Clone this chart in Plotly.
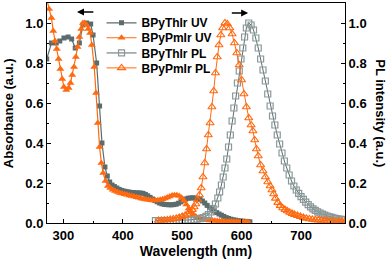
import plotly.graph_objects as go

# ---- data ----
uv_thir_wl = [272, 280, 288, 294, 301, 308, 314, 320, 327, 333, 339, 346, 350, 356, 361, 365, 370, 374, 378, 382,
              386, 390, 394, 398, 402, 406, 410, 414, 418, 422, 426, 430, 434, 438, 442, 446, 450, 454, 458, 462,
              466, 470, 474, 478, 482, 486, 490, 494, 498, 502, 506, 510, 514, 518, 522, 526, 530, 534, 538, 542,
              546, 550, 554, 558, 562, 566, 570, 574, 578, 582, 586, 590, 594, 598, 602, 606, 610, 614]
uv_thir = [0.82, 0.90, 0.90, 0.91, 0.925, 0.93, 0.92, 0.875, 0.90, 0.99, 1.0, 0.995, 0.94, 0.80, 0.585, 0.40, 0.28,
           0.235, 0.205, 0.19, 0.182, 0.175, 0.168, 0.163, 0.16, 0.157, 0.155, 0.153, 0.152, 0.151, 0.15, 0.15,
           0.148, 0.143, 0.136, 0.128, 0.12, 0.112, 0.106, 0.100, 0.096, 0.093, 0.092, 0.091, 0.091, 0.092, 0.094,
           0.099, 0.106, 0.114, 0.12, 0.124, 0.125, 0.126, 0.125, 0.123, 0.118, 0.11, 0.1, 0.088, 0.078, 0.068,
           0.06, 0.052, 0.045, 0.039, 0.033, 0.027, 0.023, 0.019, 0.016, 0.014, 0.012, 0.01, 0.009, 0.008, 0.007, 0.006]

uv_pmir_wl = [272, 276, 280, 283, 286, 289, 292, 295, 298, 301, 305, 309, 312, 315, 318, 321, 324, 327, 330, 333,
              336, 339, 342, 345, 348, 352, 355, 358, 361, 364, 367, 371, 375, 379, 383, 387, 391, 395, 399, 403,
              407, 411, 415, 419, 423, 427, 431, 435, 439, 443, 447, 451, 455, 459, 463, 467, 471, 475, 479, 483,
              487, 491, 495, 499, 503, 507, 511, 515, 519, 523, 527, 531, 535, 539, 543, 547, 551, 555, 559, 563,
              567, 571, 575, 579, 583, 587, 591, 595, 599, 603, 607, 611]
uv_pmir = [1.12, 1.07, 1.025, 0.96, 0.91, 0.87, 0.82, 0.77, 0.72, 0.68, 0.665, 0.675, 0.70, 0.74, 0.78, 0.83, 0.88,
           0.93, 0.97, 1.0, 1.0, 0.99, 0.97, 0.95, 0.89, 0.78, 0.65, 0.5, 0.38, 0.3, 0.25, 0.21, 0.185, 0.175,
           0.166, 0.16, 0.155, 0.15, 0.147, 0.144, 0.141, 0.138, 0.135, 0.132, 0.129, 0.126, 0.123, 0.12, 0.118,
           0.116, 0.114, 0.113, 0.113, 0.114, 0.116, 0.119, 0.123, 0.128, 0.133, 0.137, 0.139, 0.139, 0.135, 0.126,
           0.112, 0.092, 0.072, 0.055, 0.042, 0.033, 0.026, 0.021, 0.018, 0.016, 0.014, 0.013, 0.012, 0.011, 0.01,
           0.009, 0.009, 0.008, 0.008, 0.007, 0.007, 0.006, 0.006, 0.006, 0.005, 0.005, 0.005, 0.005]

pl_thir_wl = [455, 460, 465, 470, 475, 480, 485, 490, 495, 500, 505, 510, 515, 520, 525, 530, 535, 540, 544, 548,
              552, 556, 560, 563, 566, 569, 572, 575, 578, 581, 584, 587, 590, 593, 596, 599, 602, 605, 608, 612,
              616, 620, 624, 628, 632, 636, 640, 644, 648, 652, 656, 660, 664, 668, 672, 676, 680, 684, 688, 692,
              696, 700, 704, 708, 712, 716, 720, 724, 728, 732, 736, 740, 744, 748, 752, 756, 760, 764, 768, 772]
pl_thir = [0.012, 0.012, 0.012, 0.012, 0.012, 0.012, 0.012, 0.013, 0.013, 0.013, 0.014, 0.015, 0.016, 0.017, 0.019,
           0.022, 0.027, 0.033, 0.042, 0.055, 0.072, 0.095, 0.125, 0.155, 0.19, 0.23, 0.275, 0.32, 0.38, 0.44,
           0.51, 0.575, 0.635, 0.7, 0.76, 0.82, 0.875, 0.93, 0.975, 1.0, 0.99, 0.965, 0.925, 0.875, 0.82, 0.765,
           0.71, 0.645, 0.585, 0.535, 0.49, 0.44, 0.395, 0.35, 0.31, 0.275, 0.24, 0.21, 0.185, 0.165, 0.148, 0.132,
           0.118, 0.104, 0.092, 0.081, 0.071, 0.063, 0.056, 0.05, 0.044, 0.039, 0.035, 0.031, 0.028, 0.025, 0.022,
           0.02, 0.018, 0.016]

pl_pmir_wl = [460, 465, 470, 475, 480, 485, 490, 495, 500, 505, 509, 513, 517, 520, 523, 526, 529, 532, 535, 538,
              541, 544, 547, 550, 553, 556, 559, 562, 565, 568, 572, 576, 580, 584, 588, 592, 596, 600, 604, 608,
              612, 616, 619, 622, 625, 628, 632, 636, 640, 644, 648, 651, 654, 657, 661, 665, 669, 673, 677, 681,
              685, 689, 694, 699, 704, 709, 714, 719, 724, 729, 734, 739, 744, 749, 754, 759, 764, 769, 774]
pl_pmir = [0.013, 0.013, 0.014, 0.015, 0.017, 0.02, 0.023, 0.027, 0.032, 0.038, 0.045, 0.055, 0.067, 0.08, 0.095,
           0.115, 0.14, 0.175, 0.23, 0.3, 0.37, 0.44, 0.5, 0.58, 0.66, 0.75, 0.83, 0.89, 0.94, 0.975, 1.0, 0.995,
           0.975, 0.945, 0.9, 0.85, 0.79, 0.715, 0.645, 0.58, 0.525, 0.49, 0.46, 0.415, 0.37, 0.335, 0.29, 0.26,
           0.23, 0.205, 0.185, 0.165, 0.145, 0.123, 0.102, 0.087, 0.075, 0.067, 0.06, 0.053, 0.047, 0.042, 0.037,
           0.032, 0.027, 0.023, 0.02, 0.018, 0.016, 0.014, 0.013, 0.012, 0.011, 0.01, 0.009, 0.008, 0.008, 0.007, 0.007]

names = ["BPyThIr UV", "BPyPmIr UV", "BPyThIr PL", "BPyPmIr PL"]
x_ticks = [300, 400, 500, 600, 700]
y_ticks = [0.0, 0.2, 0.4, 0.6, 0.8, 1.0]

GRAY = "#5c6c6c"
GRAY_L = "#8a9898"
ORANGE = "#ff6a10"
FONT = "Liberation Sans, Arial, sans-serif"

fig = go.Figure()
fig.add_trace(go.Scatter(x=uv_thir_wl, y=uv_thir, name=names[0], mode="lines+markers",
                         line=dict(color=GRAY, width=1.2),
                         marker=dict(symbol="square", size=5, color=GRAY), legend="legend"))
fig.add_trace(go.Scatter(x=uv_pmir_wl, y=uv_pmir, name=names[1], mode="lines+markers",
                         line=dict(color=ORANGE, width=1.2),
                         marker=dict(symbol="triangle-up", size=7, color=ORANGE), legend="legend2"))
fig.add_trace(go.Scatter(x=pl_thir_wl, y=pl_thir, name=names[2], mode="lines+markers", yaxis="y2",
                         line=dict(color=GRAY, width=1),
                         marker=dict(symbol="square-open", size=6, color=GRAY_L, line=dict(width=1.2)),
                         legend="legend3"))
fig.add_trace(go.Scatter(x=pl_pmir_wl, y=pl_pmir, name=names[3], mode="lines+markers", yaxis="y2",
                         line=dict(color=ORANGE, width=1),
                         marker=dict(symbol="triangle-up-open", size=7, color=ORANGE, line=dict(width=1.2)),
                         legend="legend4"))

tickfont = dict(family=FONT, size=13, color="black", weight="bold")
axis_common = dict(showline=True, linecolor="black", linewidth=1, ticks="inside", ticklen=4,
                   tickcolor="black", showgrid=False, zeroline=False, tickfont=tickfont)

leg_common = dict(x=0.183, xanchor="left", yanchor="middle", bgcolor="rgba(0,0,0,0)",
                  font=dict(family=FONT, size=12, color="black", weight="bold"),
                  borderwidth=0, itemwidth=30)
row_y = [0.91, 0.842, 0.773, 0.705]

fig.update_layout(
    width=392, height=263,
    margin=dict(l=47, r=47, t=3, b=40),
    paper_bgcolor="white", plot_bgcolor="white",
    showlegend=True,
    legend=dict(y=row_y[0], **leg_common),
    legend2=dict(y=row_y[1], **leg_common),
    legend3=dict(y=row_y[2], **leg_common),
    legend4=dict(y=row_y[3], **leg_common),
    xaxis=dict(range=[272.5, 774], tickvals=x_ticks, mirror=True,
               minor=dict(ticks="inside", ticklen=2, dtick=50, tick0=250, tickcolor="black"),
               title=dict(text="Wavelength (nm)", font=dict(family=FONT, size=14, color="black", weight="bold"),
                          standoff=4),
               **axis_common),
    yaxis=dict(range=[0, 1.1], tickvals=y_ticks, tickformat=".1f",
               minor=dict(ticks="inside", ticklen=2, dtick=0.1, tickcolor="black"),
               **axis_common),
    yaxis2=dict(range=[0, 1.1], tickvals=y_ticks, tickformat=".1f", overlaying="y", side="right",
                minor=dict(ticks="inside", ticklen=2, dtick=0.1, tickcolor="black"),
                **axis_common),
    annotations=[
        dict(text="Absorbance (a.u.)", xref="paper", yref="paper", x=-0.13, y=0.5, textangle=-90,
             showarrow=False, font=dict(family=FONT, size=13, color="black", weight="bold"),
             xanchor="center", yanchor="middle"),
        dict(text="PL intensity (a.u.)", xref="paper", yref="paper", x=1.12, y=0.5, textangle=90,
             showarrow=False, font=dict(family=FONT, size=13, color="black", weight="bold"),
             xanchor="center", yanchor="middle"),
        dict(x=323, y=1.055, ax=353, ay=1.055, xref="x", yref="y", axref="x", ayref="y", text="",
             showarrow=True, arrowhead=2, arrowsize=1, arrowwidth=1.4, arrowcolor="black"),
        dict(x=611, y=1.05, ax=581, ay=1.05, xref="x", yref="y", axref="x", ayref="y", text="",
             showarrow=True, arrowhead=2, arrowsize=1, arrowwidth=1.4, arrowcolor="black"),
    ],
)

fig.write_html("out.html", config={"displayModeBar": False},
               post_script="document.body.style.margin='0';document.body.style.overflow='hidden';")
